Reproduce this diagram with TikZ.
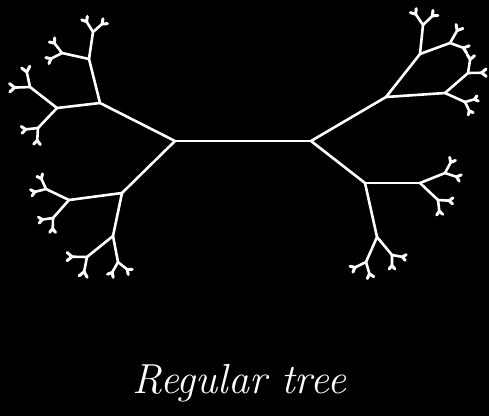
\documentclass[tikz,border=0pt]{standalone}
\usepackage{xcolor}
\usepackage{tikz}
\usetikzlibrary{calc}

% level 4 and 5: small forks at the end of a branch
\newcommand{\tips}[2]{%
  \coordinate (#2a) at ($(#2)!0.45!140:(#1)$);
  \coordinate (#2b) at ($(#2)!0.45!220:(#1)$);
  \draw[branch] (#2a) -- (#2) -- (#2b);
  \foreach \s in {a,b}{
    \coordinate (#2\s1) at ($(#2\s)!0.42!140:(#2)$);
    \coordinate (#2\s2) at ($(#2\s)!0.42!220:(#2)$);
    \draw[branch,line width=3pt] (#2\s1) -- (#2\s) -- (#2\s2);
  }%
}

\begin{document}
\begin{tikzpicture}[x=1pt,y=-1pt,
    branch/.style={draw=white,line width=2.6pt,line cap=round,line join=round},
    title/.style={text=white,font=\itshape\fontsize{42}{50}\selectfont}]
  \useasboundingbox (0,0) rectangle (489,416);
  \fill[black] (0,0) rectangle (489,416);

  % the two roots
  \coordinate (l) at (175,141);
  \coordinate (r) at (311,141);
  % level 1
  \coordinate (la) at (100,103);
  \coordinate (lb) at (122,193);
  \coordinate (ra) at (386,97);
  \coordinate (rb) at (365,183);
  % level 2
  \coordinate (laa) at (89,59);
  \coordinate (lab) at (57,108);
  \coordinate (lba) at (69,200);
  \coordinate (lbb) at (113,236);
  \coordinate (raa) at (420,54);
  \coordinate (rab) at (445,93);
  \coordinate (rba) at (420,183);
  \coordinate (rbb) at (377,237);
  % level 3
  \coordinate (laaa) at (93,32);
  \coordinate (laab) at (62,53);
  \coordinate (laba) at (30,87);
  \coordinate (labb) at (38,128);
  \coordinate (lbaa) at (46,189);
  \coordinate (lbab) at (53,218);
  \coordinate (lbba) at (87,257);
  \coordinate (lbbb) at (118,262);
  \coordinate (raaa) at (423,25);
  \coordinate (raab) at (450,43);
  \coordinate (raba) at (468,73);
  \coordinate (rabb) at (465,102);
  \coordinate (rbaa) at (445,173);
  \coordinate (rbab) at (438,200);
  \coordinate (rbba) at (366,262);
  \coordinate (rbbb) at (392,255);

  % main branches
  \draw[branch] (l) -- (r);
  \foreach \p/\c in {l/la,l/lb,r/ra,r/rb,
      la/laa,la/lab,lb/lba,lb/lbb,ra/raa,ra/rab,rb/rba,rb/rbb,
      laa/laaa,laa/laab,lab/laba,lab/labb,lba/lbaa,lba/lbab,lbb/lbba,lbb/lbbb,
      raa/raaa,raa/raab,rab/raba,rab/rabb,rba/rbaa,rba/rbab,rbb/rbba,rbb/rbbb}
    \draw[branch] (\p) -- (\c);

  % small forks
  \foreach \p/\c in {laa/laaa,laa/laab,lab/laba,lab/labb,lba/lbaa,lba/lbab,lbb/lbba,lbb/lbbb,
      raa/raaa,raa/raab,rab/raba,rab/rabb,rba/rbaa,rba/rbab,rbb/rbba,rbb/rbbb}
    \tips{\p}{\c};

  \node[title,anchor=base] (name) at (239,393) {Regular tree};
\end{tikzpicture}
\end{document}
